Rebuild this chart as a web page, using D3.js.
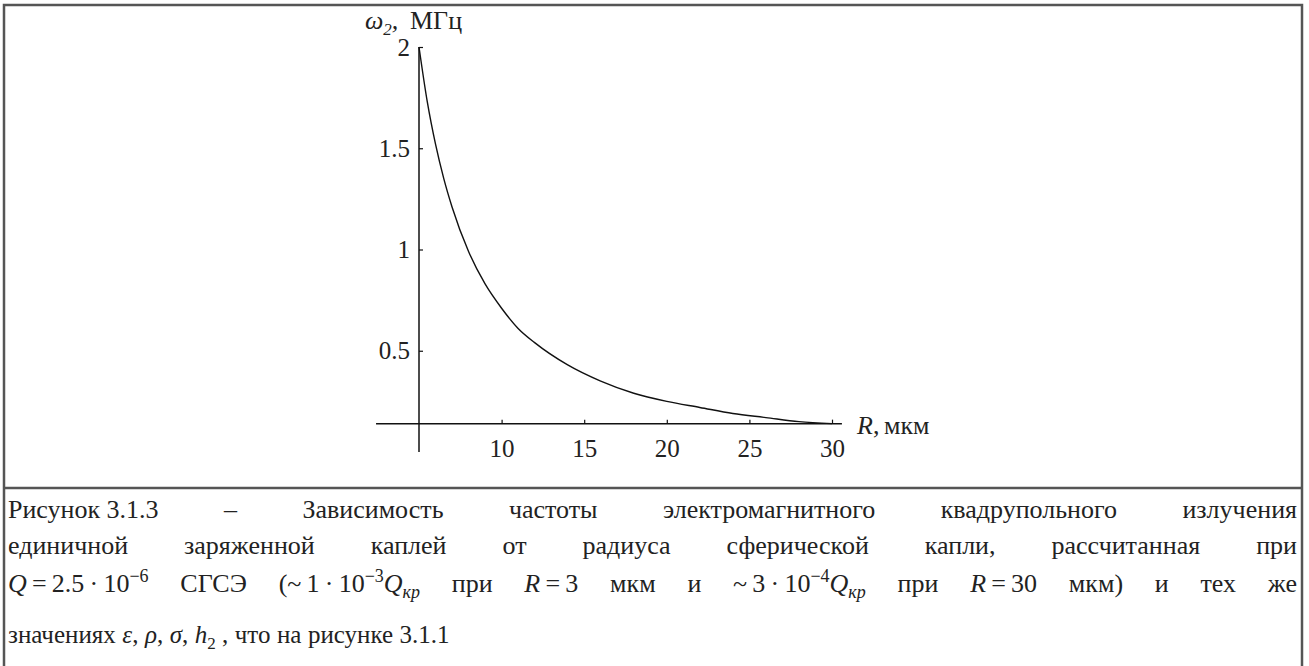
<!DOCTYPE html>
<html>
<head>
	<meta charset="utf-8">
	<style>
		body { margin: 0; background: #fff; }
	</style>
</head>
<body>

	<div id="graph"></div>

	<script src="https://cdnjs.cloudflare.com/ajax/libs/d3/7.8.5/d3.min.js"></script>

	<script>
		// radius R, мкм and frequency ω2, МГц
		const radius = [5, 5.5, 6, 6.5, 7, 8, 9, 10, 11, 12, 14, 16, 18, 20, 22, 24, 26, 28, 30];
		const omega = [2.0, 1.73, 1.52, 1.35, 1.21, 0.99, 0.83, 0.71, 0.61, 0.54, 0.43, 0.35, 0.29, 0.25, 0.22, 0.19, 0.17, 0.15, 0.14];

		const xTicks = [10, 15, 20, 25, 30];
		const yTicks = [0.5, 1, 1.5, 2];

		// caption, one string per line; words split on plain spaces, \u00a0 keeps a group together
		const captionLines = [
			'Рисунок\u00a03.1.3 – Зависимость частоты электромагнитного квадрупольного излучения',
			'единичной заряженной каплей от радиуса сферической капли, рассчитанная при',
			'<i>Q</i>\u2009=\u20092.5\u2009·\u200910<sup>−6</sup> СГСЭ (~\u20091\u2009·\u200910<sup>−3</sup><i>Q</i><sub><i>кр</i></sub> при <i>R</i>\u2009=\u20093 мкм и ~\u20093\u2009·\u200910<sup>−4</sup><i>Q</i><sub><i>кр</i></sub> при <i>R</i>\u2009=\u200930 мкм) и тех же',
			'значениях <i>ε</i>, <i>ρ</i>, <i>σ</i>, <i>h</i><sub>2</sub>\u00a0, что на рисунке 3.1.1'
		];
		const captionBase = [518, 554, 592, 643];
		const captionSize = [26, 26, 26, 25];

		const W = 1309;
		const H = 666;
		const font = '"Liberation Serif", "Times New Roman", serif';
		const ink = '#222';

		const svg = d3.select('#graph')
			.append('svg')
			.attr('width', W)
			.attr('height', H)
			.style('display', 'block');

		// frame and divider
		svg.append('rect')
			.attr('x', 4).attr('y', 5)
			.attr('width', 1298).attr('height', 700)
			.attr('fill', 'none')
			.attr('stroke', '#555')
			.attr('stroke-width', 2.5);

		svg.append('line')
			.attr('x1', 4).attr('x2', 1302)
			.attr('y1', 488).attr('y2', 488)
			.attr('stroke', '#555')
			.attr('stroke-width', 2.5);

		const x = d3.scaleLinear().domain([5, 30]).range([419, 832]);
		const y = d3.scaleLinear().domain([0, 2]).range([452, 47]);

		const axisY = y(d3.min(omega));

		// axes lines
		svg.append('line')
			.attr('x1', x(2.4)).attr('x2', x(30.6))
			.attr('y1', axisY).attr('y2', axisY)
			.attr('stroke', '#111').attr('stroke-width', 1.5);

		svg.append('line')
			.attr('x1', x(5)).attr('x2', x(5))
			.attr('y1', y(0)).attr('y2', y(2))
			.attr('stroke', '#111').attr('stroke-width', 1.5);

		const xAxis = d3.axisBottom(x)
			.tickValues(xTicks)
			.tickSizeInner(-4)
			.tickSizeOuter(0)
			.tickPadding(16)
			.tickFormat(d3.format('d'));

		const yAxis = d3.axisLeft(y)
			.tickValues(yTicks)
			.tickSizeInner(-4)
			.tickSizeOuter(0)
			.tickPadding(9)
			.tickFormat(d => String(d));

		const gx = svg.append('g').attr('transform', `translate(0, ${axisY})`).call(xAxis);
		const gy = svg.append('g').attr('transform', `translate(${x(5)}, 0)`).call(yAxis);

		[gx, gy].forEach(g => {
			g.select('.domain').remove();
			g.selectAll('line').attr('stroke', '#111').attr('stroke-width', 1.2);
			g.selectAll('text')
				.attr('fill', ink)
				.style('font-family', font)
				.style('font-size', '25px');
		});

		// the curve
		const createLine = d3.line()
			.x((d, i) => x(radius[i]))
			.y(d => y(d))
			.curve(d3.curveMonotoneX);

		svg.append('path')
			.attr('d', createLine(omega))
			.attr('fill', 'none')
			.attr('stroke', '#111')
			.attr('stroke-width', 1.4);

		// axis titles
		const yTitle = svg.append('text')
			.attr('x', 365).attr('y', 29)
			.attr('fill', ink)
			.style('font-family', font)
			.style('font-size', '26px');
		yTitle.append('tspan').style('font-style', 'italic').text('ω');
		yTitle.append('tspan').attr('dy', 6).style('font-size', '17px').style('font-style', 'italic').text('2');
		yTitle.append('tspan').attr('dy', -6).style('font-style', 'italic').text(',');
		yTitle.append('tspan').attr('x', 410).text('МГц');

		const xTitle = svg.append('text')
			.attr('x', 857).attr('y', 434)
			.attr('fill', ink)
			.style('font-family', font)
			.style('font-size', '26px');
		xTitle.append('tspan').style('font-style', 'italic').text('R');
		xTitle.append('tspan').text(',');
		xTitle.append('tspan').attr('x', 884).text('мкм');

		// rich text: <i>, <sup>, <sub> turned into tspans
		const writeRich = (sel, str, size) => {
			const small = Math.round(size * 0.68);
			const shifts = { 0: 0, 1: -Math.round(size * 0.4), '-1': Math.round(size * 0.24) };
			let italic = false;
			let level = 0;
			let shift = 0;
			str.split(/(<\/?(?:i|sup|sub)>)/).filter(s => s).forEach(tok => {
				if (tok === '<i>') italic = true;
				else if (tok === '</i>') italic = false;
				else if (tok === '<sup>') level = 1;
				else if (tok === '<sub>') level = -1;
				else if (tok === '</sup>' || tok === '</sub>') level = 0;
				else {
					const target = shifts[level];
					sel.append('tspan')
						.attr('dy', target - shift)
						.style('font-style', italic ? 'italic' : 'normal')
						.style('font-size', `${level ? small : size}px`)
						.text(tok);
					shift = target;
				}
			});
		};

		// caption, justified by hand like the source page
		const left = 8;
		const lineWidth = 1289;
		captionLines.forEach((line, li) => {
			const size = captionSize[li];
			const g = svg.append('g');
			const words = line.split(' ').map(w => {
				const t = g.append('text')
					.attr('y', captionBase[li])
					.attr('fill', ink)
					.style('font-family', font)
					.style('font-size', `${size}px`);
				writeRich(t, w, size);
				return t;
			});
			const widths = words.map(t => t.node().getComputedTextLength());
			const gap = li < captionLines.length - 1
				? (lineWidth - d3.sum(widths)) / (words.length - 1)
				: size * 0.26;
			let cx = left;
			words.forEach((t, i) => {
				t.attr('x', cx);
				t.select('tspan').attr('x', cx);
				cx += widths[i] + gap;
			});
		});
	</script>

</body>
</html>
